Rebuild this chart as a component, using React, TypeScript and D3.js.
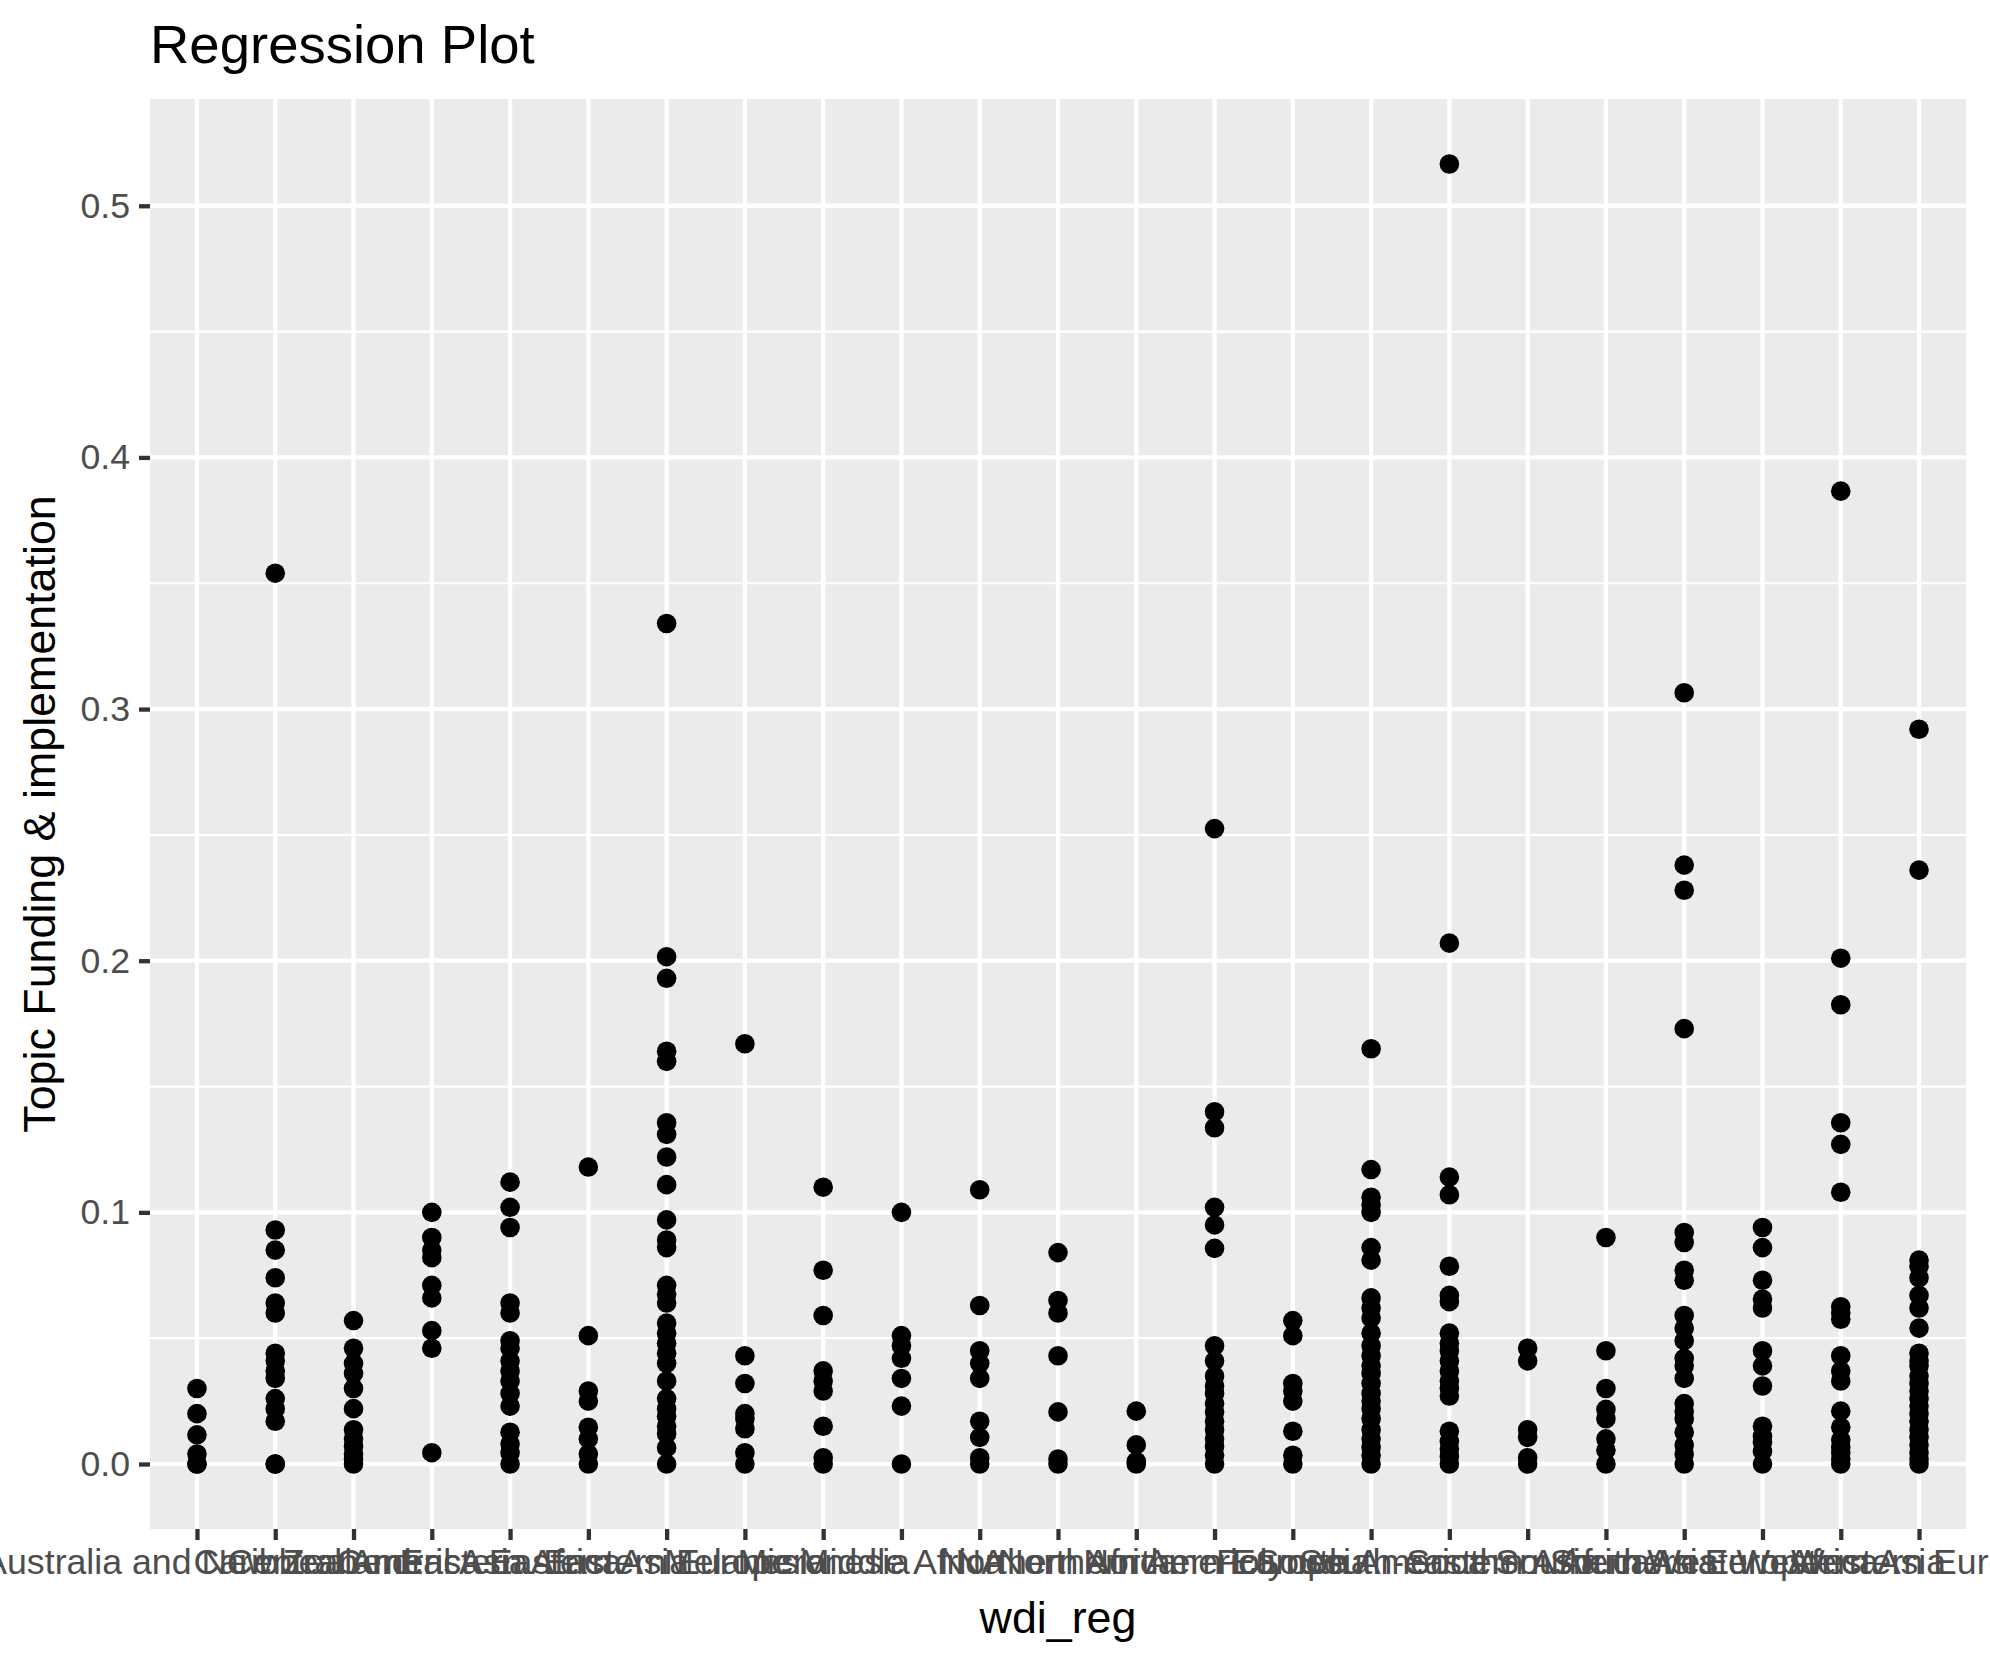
import { useEffect, useRef } from "react";
import * as d3 from "d3";

const regions = [
  "Australia and New Zealand", "Caribbean", "Central America", "Central Asia",
  "Eastern Africa", "Eastern Asia", "Eastern Europe", "Melanesia", "Micronesia",
  "Middle Africa", "NA", "Northern Africa", "Northern America", "Northern Europe",
  "Polynesia", "South America", "South-eastern Asia", "Southern Africa",
  "Southern Asia", "Southern Europe", "Western Africa", "Western Asia", "Western Europe",
];

const ausNz = [0.030, 0.020, 0.0116, 0.004, 0, 0];
const caribbean = [0.354, 0.093, 0.085, 0.074, 0.064, 0.060, 0.044, 0.041, 0.037, 0.034, 0.026, 0.022, 0.017, 0, 0];
const centralAmerica = [0.057, 0.046, 0.040, 0.036, 0.030, 0.022, 0.0136, 0.010, 0.007, 0.004, 0.002, 0];
const centralAsia = [0.100, 0.090, 0.085, 0.082, 0.071, 0.066, 0.053, 0.046, 0.0045];
const easternAfrica = [0.112, 0.102, 0.094, 0.064, 0.060, 0.049, 0.046, 0.041, 0.037, 0.033, 0.028, 0.023, 0.0126, 0.008, 0.0045, 0];
const easternAsia = [0.118, 0.051, 0.029, 0.025, 0.0146, 0.010, 0.004, 0];
const easternEurope = [0.334, 0.2016, 0.193, 0.164, 0.160, 0.1356, 0.131, 0.122, 0.111, 0.097, 0.089, 0.086, 0.071, 0.0675, 0.064, 0.056, 0.052, 0.048, 0.044, 0.040, 0.033, 0.026, 0.022, 0.019, 0.015, 0.012, 0.0065, 0];
const melanesia = [0.167, 0.043, 0.032, 0.020, 0.018, 0.014, 0.0045, 0];
const micronesia = [0.110, 0.077, 0.059, 0.037, 0.033, 0.029, 0.015, 0.0025, 0];
const middleAfrica = [0.100, 0.051, 0.047, 0.042, 0.034, 0.023, 0];
const naRegion = [0.109, 0.063, 0.045, 0.040, 0.034, 0.017, 0.0106, 0.0025, 0];
const northernAfrica = [0.084, 0.065, 0.060, 0.043, 0.0207, 0.002, 0];
const northernAmerica = [0.021, 0.0076, 0.001, 0];
const northernEurope = [0.2525, 0.140, 0.1336, 0.102, 0.095, 0.0857, 0.047, 0.041, 0.035, 0.031, 0.028, 0.024, 0.0207, 0.017, 0.0136, 0.010, 0.007, 0.0035, 0];
const polynesia = [0.057, 0.051, 0.032, 0.029, 0.025, 0.013, 0.0035, 0];
const southAmerica = [0.165, 0.117, 0.106, 0.103, 0.100, 0.086, 0.081, 0.066, 0.062, 0.058, 0.052, 0.047, 0.043, 0.039, 0.036, 0.032, 0.028, 0.025, 0.022, 0.018, 0.0136, 0.010, 0.0066, 0.0035, 0];
const southEasternAsia = [0.5166, 0.207, 0.114, 0.107, 0.0786, 0.067, 0.0645, 0.052, 0.048, 0.045, 0.041, 0.037, 0.033, 0.030, 0.027, 0.013, 0.009, 0.006, 0.003, 0];
const southernAfrica = [0.046, 0.041, 0.0136, 0.0106, 0.0025, 0];
const southernAsia = [0.090, 0.045, 0.030, 0.0217, 0.018, 0.010, 0.0055, 0];
const southernEurope = [0.3065, 0.238, 0.228, 0.173, 0.092, 0.088, 0.077, 0.073, 0.059, 0.054, 0.049, 0.042, 0.039, 0.034, 0.024, 0.021, 0.018, 0.0126, 0.0076, 0.004, 0];
const westernAfrica = [0.094, 0.086, 0.073, 0.0655, 0.062, 0.045, 0.039, 0.031, 0.015, 0.011, 0.0086, 0.005, 0];
const westernAsia = [0.3866, 0.201, 0.1825, 0.1356, 0.127, 0.108, 0.0625, 0.060, 0.0575, 0.043, 0.037, 0.033, 0.021, 0.0146, 0.0096, 0.0066, 0.0045, 0.002, 0];
const westernEurope = [0.292, 0.236, 0.081, 0.0786, 0.074, 0.067, 0.062, 0.054, 0.044, 0.041, 0.039, 0.035, 0.032, 0.029, 0.026, 0.023, 0.020, 0.017, 0.0136, 0.0106, 0.0076, 0.0045, 0.002, 0];

const groups = [
  ausNz, caribbean, centralAmerica, centralAsia, easternAfrica, easternAsia,
  easternEurope, melanesia, micronesia, middleAfrica, naRegion, northernAfrica,
  northernAmerica, northernEurope, polynesia, southAmerica, southEasternAsia,
  southernAfrica, southernAsia, southernEurope, westernAfrica, westernAsia, westernEurope,
];

const yTicks = [0, 0.1, 0.2, 0.3, 0.4, 0.5];
const yMinorTicks = [0.05, 0.15, 0.25, 0.35, 0.45];

export default function App() {
  const svgRef = useRef<SVGSVGElement | null>(null);

  useEffect(() => {
    document.body.style.margin = "0";
    if (!svgRef.current) return;

    const width = 1990;
    const height = 1665;
    const panel = { left: 150, right: 1966, top: 99, bottom: 1529 };
    const font = "'Liberation Sans', Arial, Helvetica, sans-serif";

    const points = groups.flatMap((vals, i) => vals.map(v => ({ region: regions[i], value: v })));

    const svg = d3.select(svgRef.current);
    svg.selectAll("*").remove();
    svg.attr("width", width).attr("height", height).style("display", "block");

    svg.append("rect").attr("width", width).attr("height", height).attr("fill", "#ffffff");

    const [lo, hi] = d3.extent(points, d => d.value) as [number, number];
    const pad = (hi - lo) * 0.05;

    const x = d3.scalePoint<string>()
      .domain(regions)
      .range([panel.left, panel.right])
      .padding(0.6);

    const y = d3.scaleLinear().domain([lo - pad, hi + pad]).range([panel.bottom, panel.top]);

    svg.append("rect")
      .attr("x", panel.left)
      .attr("y", panel.top)
      .attr("width", panel.right - panel.left)
      .attr("height", panel.bottom - panel.top)
      .attr("fill", "#EBEBEB");

    // minor grid
    svg.append("g").selectAll("line")
      .data(yMinorTicks)
      .enter()
      .append("line")
      .attr("x1", panel.left)
      .attr("x2", panel.right)
      .attr("y1", d => y(d))
      .attr("y2", d => y(d))
      .attr("stroke", "#ffffff")
      .attr("stroke-width", 2.2);

    // major grid
    svg.append("g").selectAll("line")
      .data(yTicks)
      .enter()
      .append("line")
      .attr("x1", panel.left)
      .attr("x2", panel.right)
      .attr("y1", d => y(d))
      .attr("y2", d => y(d))
      .attr("stroke", "#ffffff")
      .attr("stroke-width", 4.3);

    svg.append("g").selectAll("line")
      .data(regions)
      .enter()
      .append("line")
      .attr("x1", d => x(d)!)
      .attr("x2", d => x(d)!)
      .attr("y1", panel.top)
      .attr("y2", panel.bottom)
      .attr("stroke", "#ffffff")
      .attr("stroke-width", 4.3);

    svg.append("g").selectAll("circle")
      .data(points)
      .enter()
      .append("circle")
      .attr("cx", d => x(d.region)!)
      .attr("cy", d => y(d.value))
      .attr("r", 9.8)
      .attr("fill", "#000000");

    // y axis
    const yAxis = d3.axisLeft(y)
      .tickValues(yTicks)
      .tickSize(11)
      .tickPadding(9)
      .tickFormat(d3.format(".1f"));

    const gy = svg.append("g").attr("transform", `translate(${panel.left},0)`).call(yAxis);
    gy.select(".domain").remove();
    gy.selectAll(".tick line").attr("stroke", "#333333").attr("stroke-width", 4.3);
    gy.selectAll(".tick text")
      .attr("fill", "#4D4D4D")
      .attr("font-size", 35.7)
      .attr("font-family", font);

    // x axis
    const xAxis = d3.axisBottom(x).tickSize(11).tickPadding(9);
    const gx = svg.append("g").attr("transform", `translate(0,${panel.bottom})`).call(xAxis);
    gx.select(".domain").remove();
    gx.selectAll(".tick line").attr("stroke", "#333333").attr("stroke-width", 4.3);
    gx.selectAll(".tick text")
      .attr("fill", "#4D4D4D")
      .attr("font-size", 35.7)
      .attr("font-family", font)
      .attr("dy", "0.71em");

    svg.append("text")
      .attr("x", panel.left)
      .attr("y", 63)
      .attr("font-size", 54.5)
      .attr("font-family", font)
      .attr("fill", "#000000")
      .text("Regression Plot");

    svg.append("text")
      .attr("x", (panel.left + panel.right) / 2)
      .attr("y", 1633)
      .attr("text-anchor", "middle")
      .attr("font-size", 44.8)
      .attr("font-family", font)
      .attr("fill", "#000000")
      .text("wdi_reg");

    svg.append("text")
      .attr("transform", `translate(55,${(panel.top + panel.bottom) / 2}) rotate(-90)`)
      .attr("text-anchor", "middle")
      .attr("font-size", 44.8)
      .attr("font-family", font)
      .attr("fill", "#000000")
      .text("Topic Funding & implementation");
  }, []);

  return <svg ref={svgRef} />;
}
